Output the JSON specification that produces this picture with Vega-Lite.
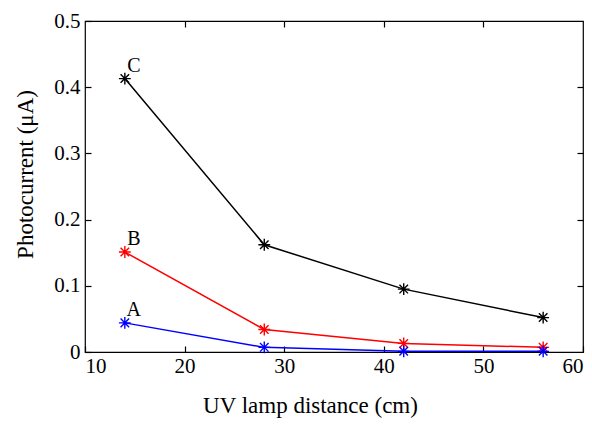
{
  "$schema": "https://vega.github.io/schema/vega-lite/v6.json",
  "width": 498,
  "height": 331,
  "autosize": {"type": "none"},
  "padding": {"left": 85, "top": 21, "right": 9, "bottom": 74},
  "background": "white",
  "config": {
    "view": {"stroke": "black", "strokeWidth": 1.2},
    "font": "Liberation Serif",
    "text": {"font": "Liberation Serif"},
    "axis": {
      "domain": false,
      "grid": false,
      "tickColor": "black",
      "tickSize": -6,
      "tickWidth": 1.2,
      "labelColor": "black",
      "labelFont": "Liberation Serif",
      "labelFontSize": 21,
      "titleFont": "Liberation Serif",
      "titleFontSize": 23,
      "titleFontWeight": "normal",
      "titleColor": "black"
    }
  },
  "data": {
    "values": [
      {"x": 14, "y": 0.413, "s": "C"},
      {"x": 28, "y": 0.162, "s": "C"},
      {"x": 42, "y": 0.095, "s": "C"},
      {"x": 56, "y": 0.052, "s": "C"},
      {"x": 14, "y": 0.151, "s": "B"},
      {"x": 28, "y": 0.034, "s": "B"},
      {"x": 42, "y": 0.013, "s": "B"},
      {"x": 56, "y": 0.007, "s": "B"},
      {"x": 14, "y": 0.044, "s": "A"},
      {"x": 28, "y": 0.007, "s": "A"},
      {"x": 42, "y": 0.001, "s": "A"},
      {"x": 56, "y": 0.001, "s": "A"}
    ]
  },
  "layer": [
    {
      "encoding": {
        "x": {"field": "x", "type": "quantitative", "scale": {"domain": [10, 60], "nice": false, "zero": false},
          "axis": {"orient": "bottom", "values": [10, 20, 30, 40, 50, 60], "labelFont": "Liberation Serif", "labelPadding": 9, "title": "UV lamp distance (cm)", "titlePadding": 18, "titleX": 225}},
        "y": {"field": "y", "type": "quantitative", "scale": {"domain": [0, 0.5], "nice": false},
          "axis": {"orient": "left", "values": [0, 0.1, 0.2, 0.3, 0.4, 0.5], "labelFont": "Liberation Serif", "format": "~g", "labelPadding": 11, "title": "Photocurrent (μA)", "titlePadding": 16, "titleY": 153}},
        "color": {"field": "s", "type": "nominal", "scale": {"domain": ["A", "B", "C"], "range": ["#0000ff", "#ff0000", "#000000"]}, "legend": null}
      },
      "layer": [
        {"mark": {"type": "line", "strokeWidth": 1.5}},
        {"mark": {"type": "point", "shape": "M-1,0L1,0M0,-1L0,1M-0.72,-0.72L0.72,0.72M-0.72,0.72L0.72,-0.72", "filled": false, "size": 140, "strokeWidth": 1.4, "opacity": 1}},
        {
          "transform": [{"filter": "datum.x == 14"}],
          "mark": {"type": "text", "dx": 9, "dy": -13, "fontSize": 20, "font": "Liberation Serif", "baseline": "middle", "align": "center"},
          "encoding": {"text": {"field": "s"}, "color": {"value": "black"}}
        }
      ]
    },
    {
      "mark": {"type": "point", "opacity": 0},
      "encoding": {
        "x": {"field": "x", "type": "quantitative", "scale": {"domain": [10, 60], "nice": false, "zero": false},
          "axis": {"orient": "top", "values": [20, 30, 40, 50], "labels": false, "title": null}},
        "y": {"field": "y", "type": "quantitative", "scale": {"domain": [0, 0.5], "nice": false},
          "axis": {"orient": "right", "values": [0.1, 0.2, 0.3, 0.4], "labels": false, "title": null}}
      }
    }
  ],
  "resolve": {"axis": {"x": "independent", "y": "independent"}}
}
